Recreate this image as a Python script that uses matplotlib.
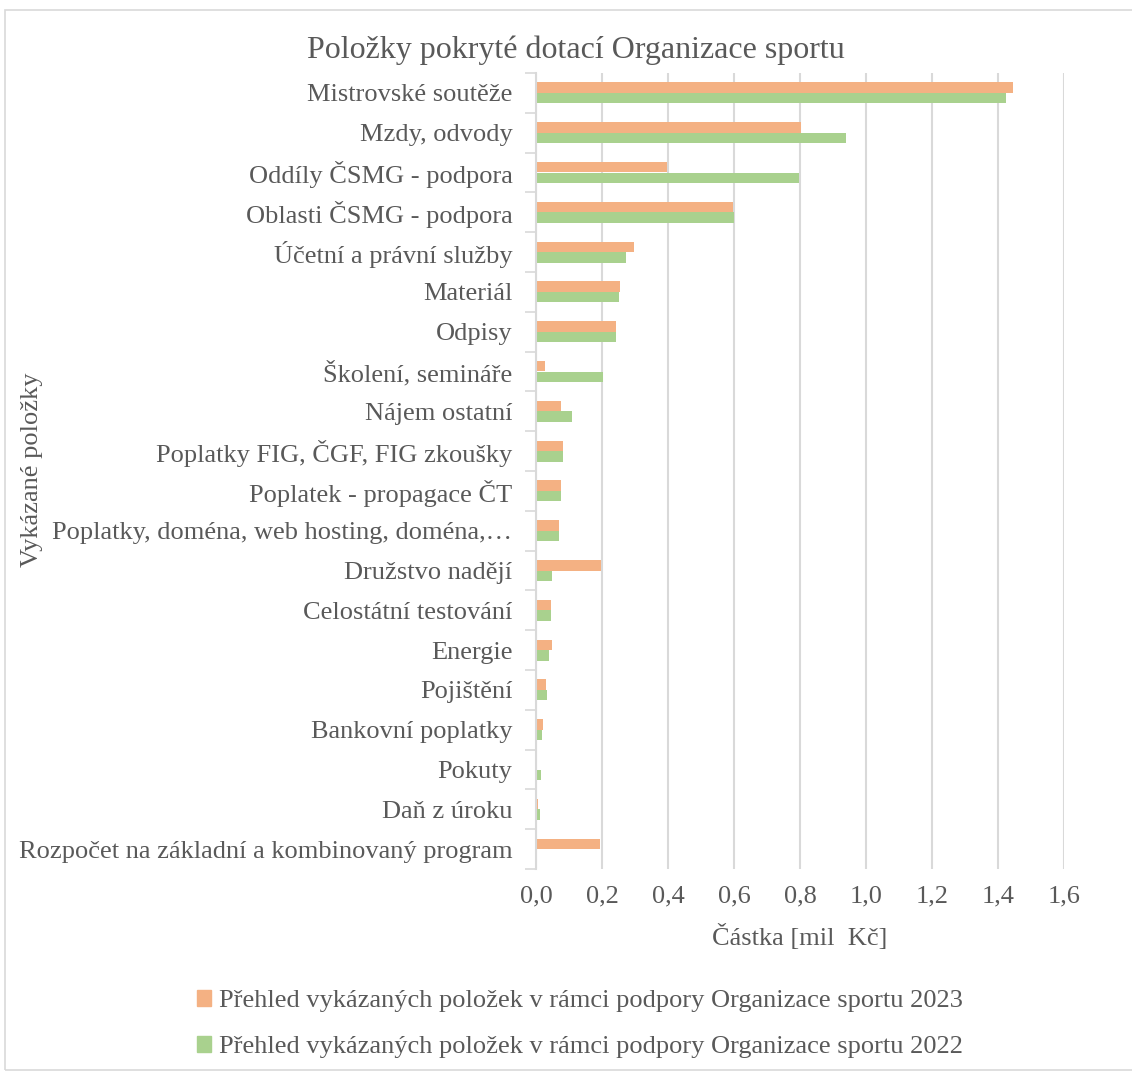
import matplotlib.pyplot as plt
import numpy as np
from matplotlib.patches import Rectangle, Patch

plt.rcParams['font.family'] = ['Liberation Serif', 'DejaVu Serif']

polozky = [
    "Mistrovské soutěže",
    "Mzdy, odvody",
    "Oddíly ČSMG - podpora",
    "Oblasti ČSMG - podpora",
    "Účetní a právní služby",
    "Materiál",
    "Odpisy",
    "Školení, semináře",
    "Nájem ostatní",
    "Poplatky FIG, ČGF, FIG zkoušky",
    "Poplatek - propagace ČT",
    "Poplatky, doména, web hosting, doména,…",
    "Družstvo nadějí",
    "Celostátní testování",
    "Energie",
    "Pojištění",
    "Bankovní poplatky",
    "Pokuty",
    "Daň z úroku",
    "Rozpočet na základní a kombinovaný program",
]
rok2023 = [1.446, 0.803, 0.398, 0.598, 0.297, 0.255, 0.241, 0.028, 0.075, 0.083,
           0.075, 0.071, 0.198, 0.044, 0.048, 0.030, 0.021, 0.0, 0.005, 0.195]
rok2022 = [1.425, 0.939, 0.798, 0.600, 0.273, 0.251, 0.241, 0.204, 0.110, 0.083,
           0.075, 0.071, 0.048, 0.044, 0.038, 0.032, 0.019, 0.016, 0.012, 0.0]
serie = ["Přehled vykázaných položek v rámci podpory Organizace sportu 2023",
         "Přehled vykázaných položek v rámci podpory Organizace sportu 2022"]
xticks = [0.0, 0.2, 0.4, 0.6, 0.8, 1.0, 1.2, 1.4, 1.6]

oranzova = '#f4b183'
zelena = '#a9d18e'
seda = '#595959'
fs = 19

fig = plt.figure(figsize=(11.32, 10.74), dpi=100)
W, H = 1132, 1074
fig.patches.append(Rectangle((5 / W, 4 / H), 1.2, (1064 - 4) / H, transform=fig.transFigure,
                             fill=False, edgecolor='#d9d9d9', linewidth=1.2))

ax = fig.add_axes([536 / W, 1 - 869 / H, 528 / W, (869 - 73) / H])
y = np.arange(len(polozky))
h = 0.265
ax.barh(y - h / 2, rok2023, height=h, color=oranzova, label=serie[0])
ax.barh(y + h / 2, rok2022, height=h, color=zelena, label=serie[1])

ax.set_ylim(len(polozky) - 0.5, -0.5)
ax.set_xlim(0, 1.6)
ax.set_yticks(y)
ax.set_yticklabels(polozky, fontsize=fs, color=seda)
ax.set_yticks(np.arange(len(polozky) + 1) - 0.5, minor=True)
ax.tick_params(axis='y', which='major', length=0, pad=17)
ax.tick_params(axis='y', which='minor', length=8, color='#d9d9d9', width=1.2)
ax.set_xticks(xticks)
ax.set_xticklabels([f"{v:.1f}".replace('.', ',') for v in xticks], fontsize=fs, color=seda)
ax.tick_params(axis='x', length=0, pad=12)
ax.grid(axis='x', color='#d9d9d9', linewidth=1.5)
ax.set_axisbelow(True)
for s in ['top', 'right', 'bottom']:
    ax.spines[s].set_visible(False)
ax.spines['left'].set_color('#d9d9d9')
ax.spines['left'].set_linewidth(1.5)

ax.set_xlabel("Částka [mil  Kč]", fontsize=fs, color=seda, labelpad=12)
fig.text(32 / W, 1 - 470 / H, "Vykázané položky", rotation=90, fontsize=fs,
         color=seda, ha='center', va='center')
fig.text(576 / W, 1 - 50 / H, "Položky pokryté dotací Organizace sportu", fontsize=23,
         color=seda, ha='center', va='center')

handles = [Patch(color=oranzova), Patch(color=zelena)]
fig.legend(handles, serie, loc='center', bbox_to_anchor=(580 / W, 1 - 1024 / H),
           ncol=1, frameon=False, fontsize=fs, labelcolor=seda,
           handlelength=0.55, handleheight=0.55, handletextpad=0.3, labelspacing=0.9)

fig.savefig('out.png', dpi=100)
